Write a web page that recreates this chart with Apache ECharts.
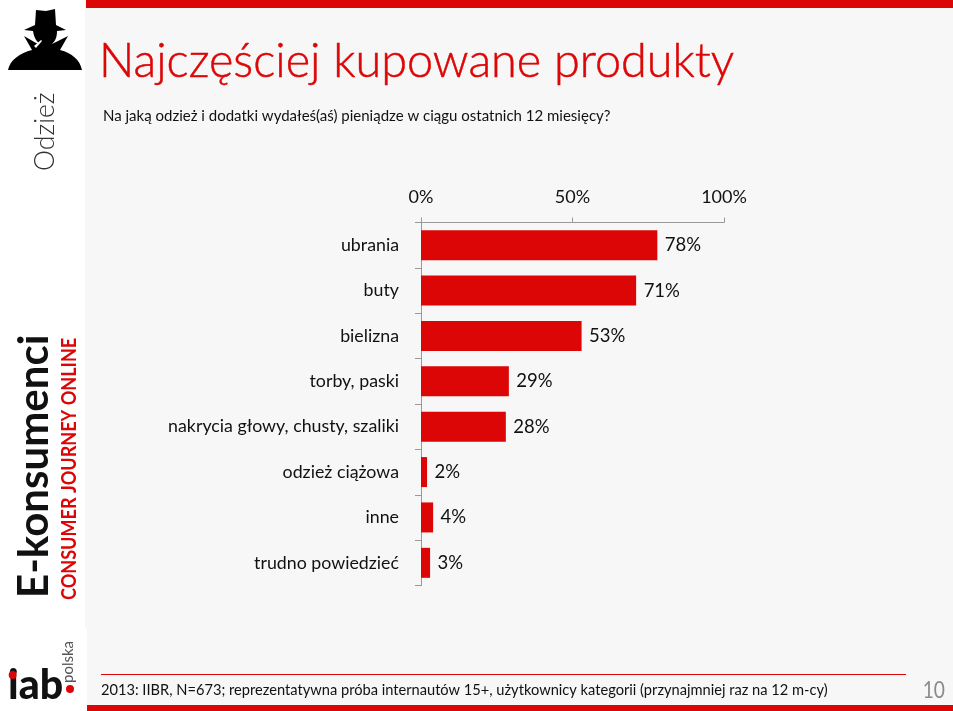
<!DOCTYPE html>
<html><head><meta charset="utf-8">
<style>html,body{margin:0;padding:0;background:#fff}#c{width:953px;height:711px}</style>
<script src="https://cdn.jsdelivr.net/npm/echarts@6/dist/echarts.min.js"></script>
</head><body><div id="c"></div>
<script>
const categories = ['ubrania','buty','bielizna','torby, paski','nakrycia głowy, chusty, szaliki','odzież ciążowa','inne','trudno powiedzieć'];
const values = [78,71,53,29,28,2,4,3];
const tickValues = [0,50,100];
const titleText = 'Najczęściej kupowane produkty';
const subtitleText = 'Na jaką odzież i dodatki wydałeś(aś) pieniądze w ciągu ostatnich 12 miesięcy?';
const footerText = '2013: IIBR, N=673; reprezentatywna próba internautów 15+, użytkownicy kategorii (przynajmniej raz na 12 m-cy)';
const pageNumber = '10';
const sectionText = 'Odzież';
const brandText = 'E-konsumenci';
const brandSubText = 'CONSUMER JOURNEY ONLINE';

const RED = '#dd0606';
const FONT = 'Lato, "Open Sans", sans-serif';
const hat = 'M36 10 L46 11 L55 9 L56 25 L66 30 L57 31 C57 38 55 41 52 44 L56 42 L68 36 L60 50 C72 53 80 60 82 70 L8 70 C10 60 20 53 32 50 L24 36 L36 43 L40 44 C36 41 34 37 33 31 L24 30 L35 25 Z';
echarts.graphic.registerShape('hatIcon', echarts.graphic.extendPath(hat, {}));

const graphic = [
  {type:'rect',z:-10,silent:true,shape:{x:85,y:0,width:868,height:711},style:{fill:'#f7f7f7'}},
  {type:'rect',z:-9,silent:true,shape:{x:0,y:628,width:87,height:83},style:{fill:'#fff'}},
  {type:'rect',z:-8,silent:true,shape:{x:86,y:0,width:867,height:8},style:{fill:RED}},
  {type:'rect',z:-8,silent:true,shape:{x:87,y:705,width:866,height:6},style:{fill:RED}},
  {type:'rect',z:-8,silent:true,shape:{x:101,y:674,width:805,height:1},style:{fill:RED}},
  {type:'hatIcon',silent:true,style:{fill:'#000'}},
  {type:'polygon',silent:true,z:20,shape:{points:[[34,46],[41,40],[42,41],[36,48]]},style:{fill:'#fff'}},
  {type:'text',silent:true,x:99,y:62,style:{text:titleText,font:'300 46.8px '+FONT,fill:RED,stroke:RED,lineWidth:0.5,textVerticalAlign:'middle',textAlign:'left'}},
  {type:'text',silent:true,x:103,y:116,style:{text:subtitleText,font:'400 15px '+FONT,fill:'#111',textVerticalAlign:'middle',textAlign:'left'}},
  {type:'text',silent:true,x:101,y:690,style:{text:footerText,font:'400 14.65px '+FONT,fill:'#111',textVerticalAlign:'middle',textAlign:'left'}},
  {type:'text',silent:true,x:945,y:690,scaleX:0.8,style:{text:pageNumber,font:'400 24px '+FONT,fill:'#8a8a8a',textVerticalAlign:'middle',textAlign:'right'}},
  {type:'text',silent:true,x:45,y:171,rotation:Math.PI/2,style:{text:sectionText,font:'300 26.5px '+FONT,fill:'#333',textVerticalAlign:'middle',textAlign:'left'}},
  {type:'text',silent:true,x:34,y:598,rotation:Math.PI/2,style:{text:brandText,font:'700 42px '+FONT,fill:'#111',textVerticalAlign:'middle',textAlign:'left'}},
  {type:'text',silent:true,x:70,y:600,rotation:Math.PI/2,scaleX:0.903,style:{text:brandSubText,font:'700 20px '+FONT,fill:RED,textVerticalAlign:'middle',textAlign:'left'}},
  {type:'text',silent:true,x:8,y:686,style:{text:'iab',font:'900 41px '+FONT,fill:'#111',textVerticalAlign:'middle',textAlign:'left'}},
  {type:'circle',silent:true,z:20,shape:{cx:12.7,cy:675,r:4},style:{fill:RED}},
  {type:'circle',silent:true,shape:{cx:70,cy:689,r:4},style:{fill:RED}},
  {type:'text',silent:true,x:68,y:683,rotation:Math.PI/2,style:{text:'polska',font:'400 15px '+FONT,fill:'#555',textVerticalAlign:'middle',textAlign:'left'}}
];

const chart = echarts.init(document.getElementById('c'),null,{renderer:'canvas'});
chart.setOption({
  animation:false,
  backgroundColor:'#fff',
  graphic:{elements:graphic},
  grid:{left:421,top:222.5,width:303,height:363,containLabel:false},
  xAxis:{type:'value',position:'top',min:tickValues[0],max:tickValues[2],interval:tickValues[1],
    axisLine:{show:true,lineStyle:{color:'#999',width:1}},
    axisTick:{show:true,length:5,lineStyle:{color:'#999'}},
    splitLine:{show:false},
    axisLabel:{margin:16,formatter:'{value}%',color:'#111',fontFamily:FONT,fontSize:18}},
  yAxis:{type:'category',inverse:true,data:categories,
    axisLine:{show:true,lineStyle:{color:'#999',width:1}},
    axisTick:{show:true,length:6,alignWithLabel:false,lineStyle:{color:'#999'}},
    axisLabel:{margin:22,color:'#111',fontFamily:FONT,fontSize:17.8}},
  series:[{type:'bar',data:values,barWidth:30,itemStyle:{color:RED},
    label:{show:true,position:'right',distance:7.5,formatter:'{c}%',color:'#111',fontFamily:FONT,fontSize:18.5}}]
});
</script></body></html>
